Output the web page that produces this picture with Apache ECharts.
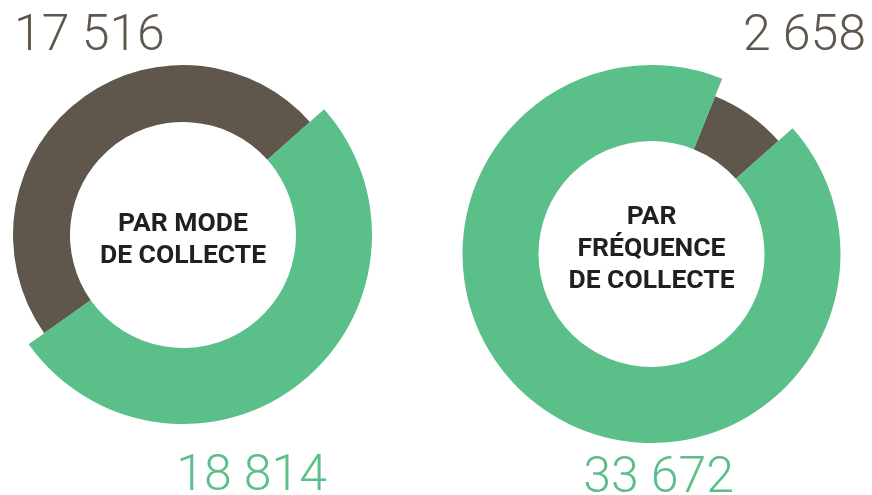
<!DOCTYPE html>
<html><head><meta charset="utf-8">
<script src="https://cdn.jsdelivr.net/npm/echarts@6/dist/echarts.min.js"></script>
<style>html,body{margin:0;padding:0;background:#fff}#c{width:872px;height:495px}</style>
</head><body><div id="c"></div>
<script>
// Data
const categories = ['Vert', 'Brun'];
const modeValues = [18814, 17516];       // par mode de collecte: green, brown
const freqValues = [33672, 2658];        // par fréquence de collecte: green, brown
const centerTitles = [['PAR MODE', 'DE COLLECTE'], ['PAR', 'FRÉQUENCE', 'DE COLLECTE']];

const GREEN = '#5bbf8a', BROWN = '#60574c';
const fmt = v => String(v).replace(/\B(?=(\d{3})+(?!\d))/g, ' ');

function ringSeries(center, values, showIdx, outer) {
  return {
    type: 'pie', center: center, radius: [113, outer], startAngle: 41.7, clockwise: true,
    silent: true, label: {show: false}, labelLine: {show: false}, emphasis: {disabled: true},
    data: values.map((v, i) => ({
      name: categories[i], value: v,
      itemStyle: {color: i === showIdx ? (i === 0 ? GREEN : BROWN) : 'rgba(0,0,0,0)'}
    }))
  };
}

const L = [183, 235], R = [651.5, 254];
const numFont = {fontFamily: 'Roboto', fontWeight: 300, fontSize: 50};
const ctrFont = {fontFamily: 'Roboto', fontWeight: 'bold', fontSize: 26.5, fill: '#231f20'};

function centerText(c, lines, dy) {
  return {type: 'text', x: c[0], y: c[1] + dy, style: Object.assign({
    text: lines.join('\n'), align: 'center', verticalAlign: 'middle', lineHeight: 32}, ctrFont)};
}

const chart = echarts.init(document.getElementById('c'), null, {renderer: 'canvas'});
chart.setOption({
  animation: false,
  series: [
    ringSeries(L, modeValues, 1, 170),
    ringSeries(L, modeValues, 0, 189),
    ringSeries(R, freqValues, 1, 170),
    ringSeries(R, freqValues, 0, 189)
  ],
  graphic: [
    {type: 'text', x: 14, y: 37, style: Object.assign({text: fmt(modeValues[1]), fill: BROWN, align: 'left', verticalAlign: 'middle'}, numFont)},
    {type: 'text', x: 327, y: 477, style: Object.assign({text: fmt(modeValues[0]), fill: GREEN, align: 'right', verticalAlign: 'middle'}, numFont)},
    {type: 'text', x: 866, y: 37, style: Object.assign({text: fmt(freqValues[1]), fill: BROWN, align: 'right', verticalAlign: 'middle'}, numFont)},
    {type: 'text', x: 734, y: 479, style: Object.assign({text: fmt(freqValues[0]), fill: GREEN, align: 'right', verticalAlign: 'middle'}, numFont)},
    centerText(L, centerTitles[0], 5),
    centerText(R, centerTitles[1], -5)
  ]
});
</script></body></html>
